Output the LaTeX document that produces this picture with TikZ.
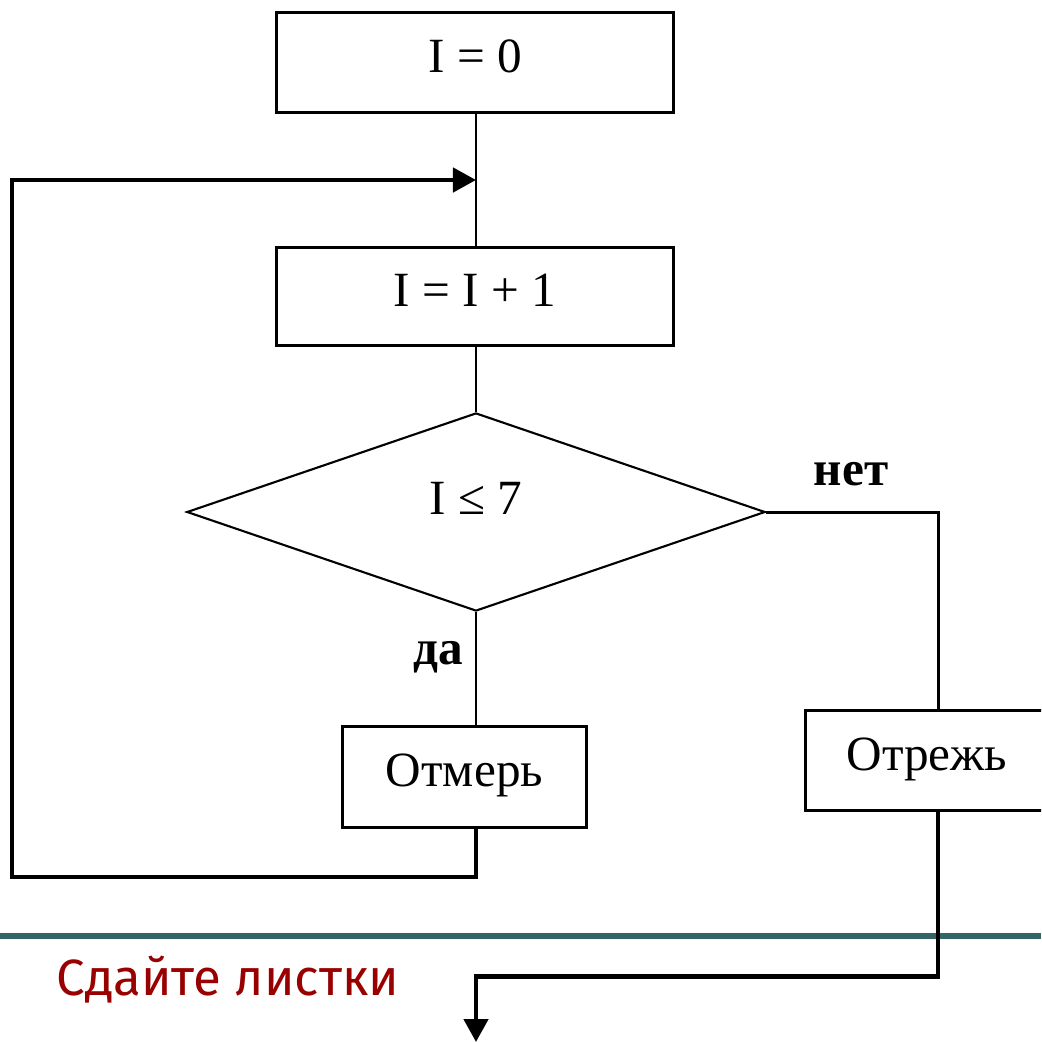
\documentclass[tikz,border=0pt]{standalone}
\usepackage{fontspec}
\setmainfont{Liberation Serif}
\newfontfamily\notefont{Fira Sans}
\usetikzlibrary{arrows.meta,shapes.geometric}
\definecolor{ink}{HTML}{000000}
\definecolor{slate}{HTML}{336666}
\definecolor{wine}{HTML}{990000}

\begin{document}
\begin{tikzpicture}[x=0.01cm,y=-0.01cm,
  blk/.style={draw=ink,line width=0.85pt,inner sep=0pt,text height=9.5pt,text depth=4pt,font=\fontsize{14}{16}\selectfont},
  test/.style={draw=ink,diamond,line width=0.6pt,inner sep=0pt,minimum width=5.78cm,minimum height=1.98cm,text height=9.5pt,text depth=8pt,font=\fontsize{14}{16}\selectfont},
  flow/.style={ink,line width=0.85pt},
  loop/.style={ink,line width=1.3pt,-{Triangle[length=0.23cm,width=0.24cm]}},
  ans/.style={font=\fontsize{14}{16}\selectfont\bfseries}]
  \clip (0,0) rectangle (1041,1042);
  \draw[slate,line width=1.7pt] (0,936) -- (1041,936);
  % blocks
  \node[blk,minimum width=3.96cm,minimum height=0.99cm] (init) at (475,62.5) {I = 0};
  \node[blk,minimum width=3.96cm,minimum height=0.97cm] (incr) at (475,296.5) {I = I + 1};
  \node[test] (cond) at (476,512) {I ≤ 7};
  \node[blk,minimum width=2.43cm,minimum height=1.0cm] (measure) at (464.5,777) {Отмерь};
  \node[blk,minimum width=2.42cm,minimum height=0.99cm] (cut) at (927,760.5) {Отрежь};
  \node[ans] (no) at (851,474) {нет};
  \node[ans] (yes) at (438,657) {да};
  \node[font=\notefont\fontsize{14.5}{17}\selectfont,text=wine] (note) at (228,980) {Сдайте листки};
  \coordinate (join) at (476,180);
  \coordinate (side) at (938,512);
  \coordinate (exit) at (476,1042);
  % connectors
  \draw[flow] (init.south -| join) -- (incr.north -| join);
  \draw[flow] (incr.south -| join) -- (cond.north);
  \draw[flow] (cond.south) -- (cond.south |- measure.north);
  \draw[flow] (cond.east) -- (side) -- (side |- cut.north);
  \draw[loop] (measure.south -| join) -- (476,877) -| (12,180) -- (join);
  \draw[loop] (cut.south -| side) -- ++(0,165) -| (exit);
\end{tikzpicture}
\end{document}
